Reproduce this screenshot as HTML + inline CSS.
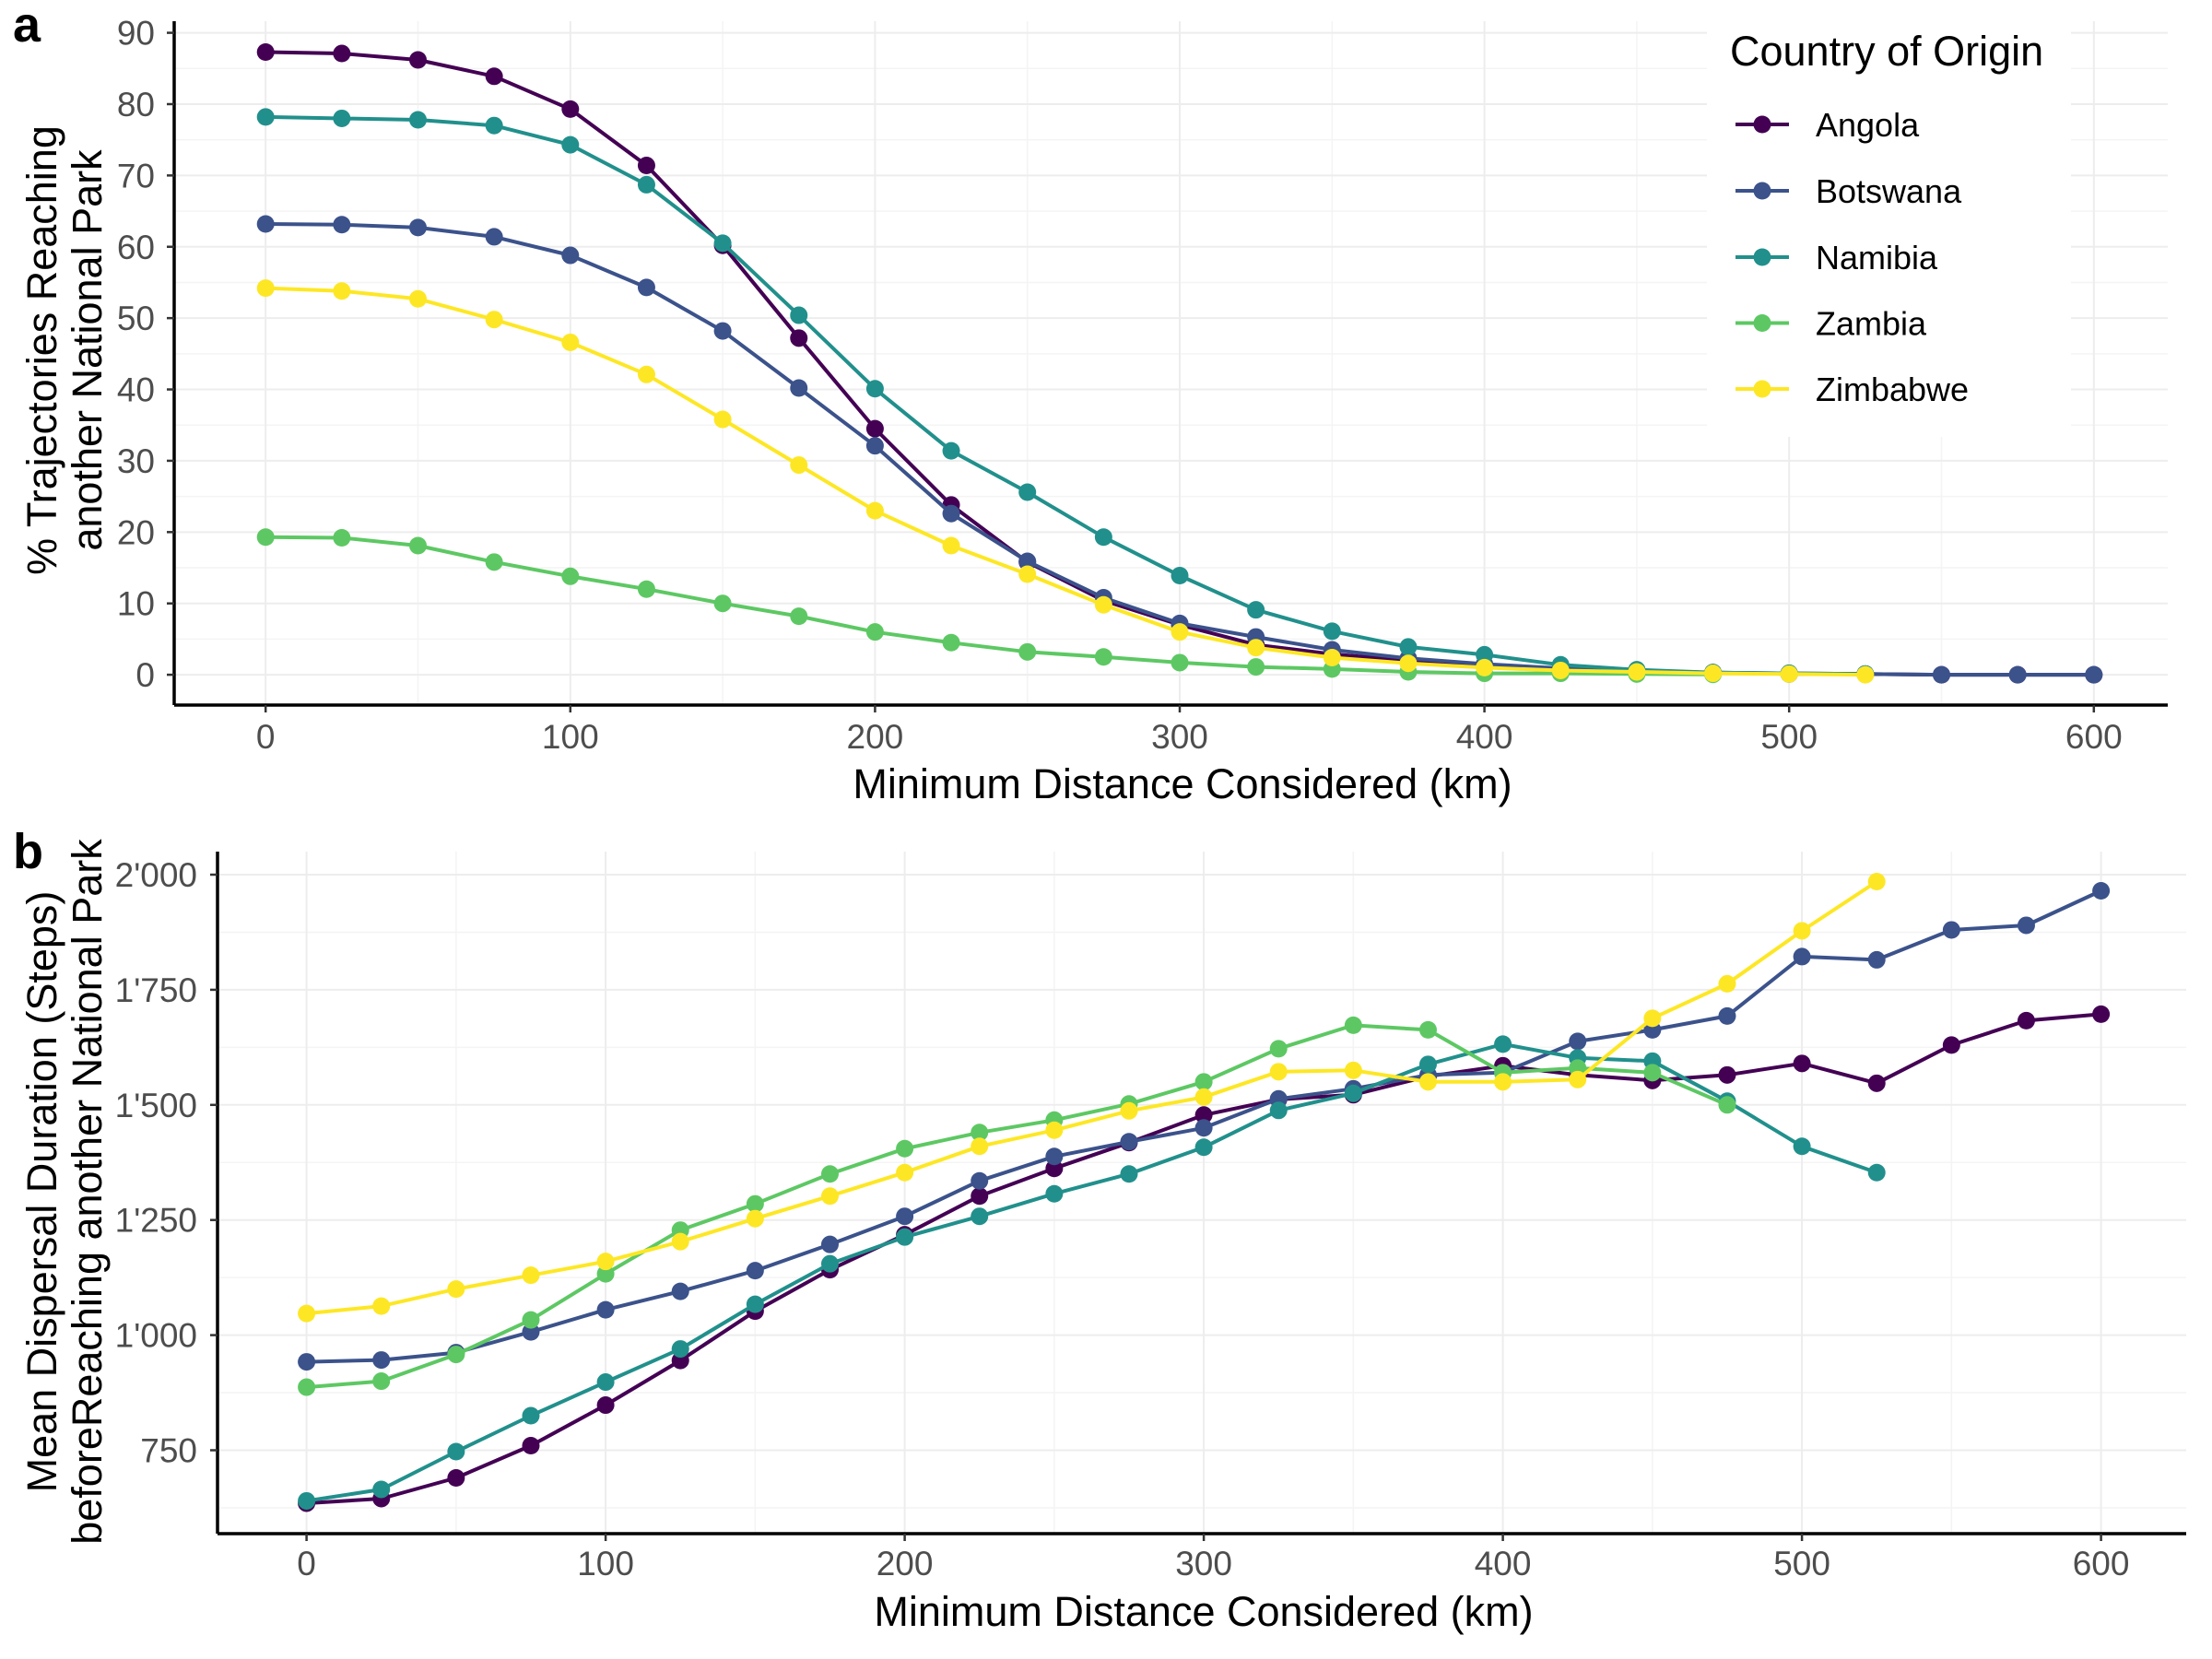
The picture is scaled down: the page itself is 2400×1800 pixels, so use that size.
<!DOCTYPE html>
<html><head><meta charset="utf-8">
<style>
html,body{margin:0;padding:0;background:#fff;}
svg{display:block;font-family:"Liberation Sans",sans-serif;}
</style></head>
<body>
<svg id="chart" width="2400" height="1800" viewBox="0 0 2400 1800" xmlns="http://www.w3.org/2000/svg">
<rect width="2400" height="1800" fill="#fff"/>
<g id="pa"></g>
<g id="pb"></g>
</svg>
<script>
const countries = ["Angola","Botswana","Namibia","Zambia","Zimbabwe"];
const colors = ["#440154","#3B528B","#21908C","#5DC863","#FDE725"];
const distances = [0,25,50,75,100,125,150,175,200,225,250,275,300,325,350,375,400,425,450,475,500,525,550,575,600];
const pctAngola   = [87.3,87.1,86.2,83.9,79.3,71.4,60.2,47.2,34.5,23.8,15.8,10.4,7.0,4.2,2.9,2.0,1.3,0.8,0.5,0.3,0.2,0.1,0,0,0];
const pctBotswana = [63.2,63.1,62.7,61.4,58.8,54.3,48.2,40.2,32.1,22.6,15.9,10.8,7.2,5.3,3.5,2.3,1.5,0.9,0.5,0.3,0.1,0.1,0,0,0];
const pctNamibia  = [78.2,78.0,77.8,77.0,74.3,68.7,60.5,50.4,40.1,31.4,25.6,19.3,13.9,9.1,6.1,3.9,2.8,1.4,0.7,0.3,0.2,0.1];
const pctZambia   = [19.3,19.2,18.1,15.8,13.8,12.0,10.0,8.2,6.0,4.5,3.2,2.5,1.7,1.1,0.8,0.4,0.2,0.2,0.1,0.05];
const pctZimbabwe = [54.2,53.8,52.7,49.8,46.6,42.1,35.8,29.4,23.0,18.1,14.1,9.8,6.0,3.8,2.4,1.6,1.0,0.6,0.4,0.2,0.1,0];
const durAngola   = [635,645,690,760,848,945,1052,1142,1218,1302,1362,1418,1478,1512,1522,1562,1585,1565,1553,1565,1590,1547,1630,1683,1697];
const durBotswana = [942,946,962,1007,1055,1095,1140,1197,1258,1335,1388,1420,1450,1513,1535,1565,1570,1638,1663,1693,1822,1815,1880,1890,1965];
const durNamibia  = [640,665,747,825,898,970,1067,1155,1213,1258,1307,1350,1408,1488,1525,1588,1632,1602,1595,1508,1410,1353];
const durZambia   = [887,900,958,1033,1133,1228,1285,1350,1405,1440,1467,1502,1550,1622,1673,1663,1570,1580,1570,1500];
const durZimbabwe = [1047,1063,1100,1130,1160,1203,1253,1302,1353,1410,1445,1487,1517,1572,1575,1550,1550,1555,1688,1763,1878,1985];
const xTicks = [0,100,200,300,400,500,600];
const yTicksA = [0,10,20,30,40,50,60,70,80,90];
const yTicksB = [750,1000,1250,1500,1750,2000];
const yTickLabelsB = ["750","1'000","1'250","1'500","1'750","2'000"];

const NS="http://www.w3.org/2000/svg";
function mk(parent,tag,attrs,text){const e=document.createElementNS(NS,tag);for(const k in attrs)e.setAttribute(k,attrs[k]);if(text!==undefined)e.textContent=text;parent.appendChild(e);return e;}

function panel(g,cfg){
  const {x,y,left,right,top,bottom,yTicks,yMinor,yLabels,xMinor,series,tickLblX,xLblY} = cfg;
  yMinor.forEach(v=>{const l=mk(g,'line',{x1:left,x2:right,y1:y(v),y2:y(v),stroke:'#f4f4f4','stroke-width':1.5});});
  xMinor.forEach(v=>{const l=mk(g,'line',{x1:x(v),x2:x(v),y1:top,y2:bottom,stroke:'#f4f4f4','stroke-width':1.5});});
  yTicks.forEach(v=>{const l=mk(g,'line',{x1:left,x2:right,y1:y(v),y2:y(v),stroke:'#ededed','stroke-width':2});});
  xTicks.forEach(v=>{const l=mk(g,'line',{x1:x(v),x2:x(v),y1:top,y2:bottom,stroke:'#ededed','stroke-width':2});});
  series.forEach((s,i)=>{
    const sg=mk(g,'g',{});
    
    
    const pts=s.map((v,j)=>x(distances[j]).toFixed(1)+','+y(v).toFixed(1)).join(' ');
    const pl=mk(sg,'polyline',{points:pts,fill:'none',stroke:colors[i],'stroke-width':4,'stroke-linejoin':'round'});
    
    
    s.forEach((v,j)=>{const c=mk(sg,'circle',{cx:x(distances[j]),cy:y(v),r:9.5,fill:colors[i]});
      
      });
  });
  const ax=mk(g,'line',{x1:left,x2:right,y1:bottom,y2:bottom,stroke:'#000','stroke-width':3.5});
  
  const ay=mk(g,'line',{x1:left,x2:left,y1:top,y2:bottom,stroke:'#000','stroke-width':3.5});
  
  xTicks.forEach(v=>{
    const t=mk(g,'line',{x1:x(v),x2:x(v),y1:bottom,y2:bottom+8,stroke:'#333','stroke-width':2.5});
    
    const l=mk(g,'text',{x:x(v),y:xLblY,'text-anchor':'middle','font-size':37,fill:'#4d4d4d'},String(v));
    
  });
  yTicks.forEach((v,k)=>{
    const t=mk(g,'line',{x1:left-8,x2:left,y1:y(v),y2:y(v),stroke:'#333','stroke-width':2.5});
    
    const l=mk(g,'text',{x:tickLblX,y:y(v)+13,'text-anchor':'end','font-size':37,fill:'#4d4d4d'},yLabels[k]);
    
  });
}

const ga=document.getElementById('pa');
const xa=v=>288.2+v*3.306;
const ya=v=>732.1-v*7.739;
panel(ga,{x:xa,y:ya,left:189,right:2352,top:23,bottom:765,yTicks:yTicksA,yMinor:[5,15,25,35,45,55,65,75,85],
  yLabels:yTicksA.map(String),xMinor:[50,150,250,350,450,550],
  series:[pctAngola,pctBotswana,pctNamibia,pctZambia,pctZimbabwe],tickLblX:168,xLblY:812});

const gb=document.getElementById('pb');
const xb=v=>332.6+v*3.245;
const yb=v=>949-(v-2000)*0.4996;
panel(gb,{x:xb,y:yb,left:236,right:2372,top:924,bottom:1664,yTicks:yTicksB,yMinor:[625,875,1125,1375,1625,1875],
  yLabels:yTickLabelsB,xMinor:[50,150,250,350,450,550],
  series:[durAngola,durBotswana,durNamibia,durZambia,durZimbabwe],tickLblX:214,xLblY:1709});

const lg=mk(ga,'g',{});


mk(lg,'rect',{x:1852,y:22,width:395,height:452,fill:'#fff'});
const lt=mk(lg,'text',{x:1877,y:71,'font-size':45,fill:'#000'},'Country of Origin');


const rowsY=[135,207,279,350.5,422];
countries.forEach((c,i)=>{
  const eg=mk(lg,'g',{});
  
  
  mk(eg,'line',{x1:1883,x2:1941,y1:rowsY[i],y2:rowsY[i],stroke:colors[i],'stroke-width':4});
  mk(eg,'circle',{cx:1912,cy:rowsY[i],r:9.5,fill:colors[i]});
  mk(eg,'text',{x:1970,y:rowsY[i]+13,'font-size':36,fill:'#000'},c);
});
</script>
<div style="position:absolute;left:0;top:0;width:2400px;height:1800px;pointer-events:none;font-family:'Liberation Sans',sans-serif;">
  <div style="position:absolute;left:14px;top:-4px;font-size:54px;font-weight:bold;">a</div>
  <div style="position:absolute;left:14px;top:893px;font-size:54px;font-weight:bold;">b</div>
  <div style="position:absolute;left:0;width:2566px;top:825px;text-align:center;font-size:45px;">Minimum Distance Considered (km)</div>
  <div style="position:absolute;left:0;width:2612px;top:1723px;text-align:center;font-size:45px;">Minimum Distance Considered (km)</div>
  <div style="position:absolute;left:70px;top:380px;width:900px;transform:translate(-50%,-50%) rotate(-90deg);text-align:center;font-size:45px;line-height:49px;">% Trajectories Reaching<br>another National Park</div>
  <div style="position:absolute;left:70px;top:1293px;width:900px;transform:translate(-50%,-50%) rotate(-90deg);text-align:center;font-size:45px;line-height:49px;">Mean Dispersal Duration (Steps)<br>beforeReaching another National Park</div>
</div>
</body></html>
